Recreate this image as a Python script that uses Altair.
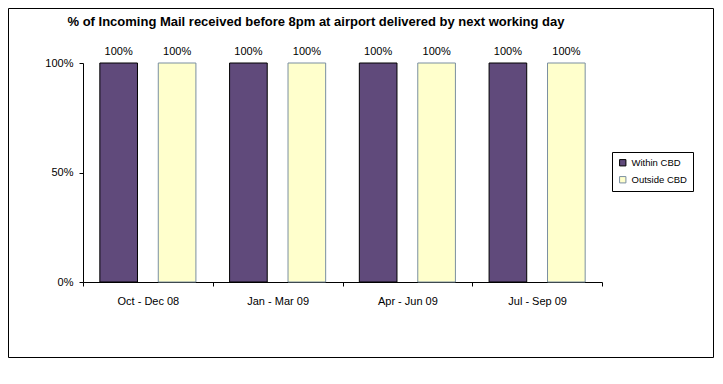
import altair as alt
import pandas as pd

periods = ["Oct - Dec 08", "Jan - Mar 09", "Apr - Jun 09", "Jul - Sep 09"]
series = ["Within CBD", "Outside CBD"]
within_cbd = [1.0, 1.0, 1.0, 1.0]
outside_cbd = [1.0, 1.0, 1.0, 1.0]
fill_colors = ["#604A7B", "#FFFFCC"]
stroke_colors = ["#000000", "#7A8FA0"]
title_text = "% of Incoming Mail received before 8pm at airport delivered by next working day"

rows = []
for p, w, o in zip(periods, within_cbd, outside_cbd):
    rows.append({"period": p, "series": series[0], "value": w})
    rows.append({"period": p, "series": series[1], "value": o})
df = pd.DataFrame(rows)

W, H = 519, 219
FONT = "Liberation Sans"

x = alt.X("period:N", sort=periods, title=None,
          scale=alt.Scale(paddingInner=0, paddingOuter=0),
          axis=alt.Axis(labelAngle=0, tickBand="extent", tickSize=4, labelPadding=9,
                        labelFontSize=11, labelFont=FONT, labelColor="black",
                        domainColor="black", tickColor="black", grid=False))
xo = alt.XOffset("series:N", sort=series,
                 scale=alt.Scale(paddingInner=0.356, paddingOuter=0.288))
y = alt.Y("value:Q", title=None,
          scale=alt.Scale(domain=[0, 1], nice=False),
          axis=alt.Axis(values=[0, 0.5, 1], format=".0%", tickSize=4, labelPadding=6,
                        labelFontSize=11, labelFont=FONT, labelColor="black",
                        domainColor="black", tickColor="black", grid=False))

color = alt.Color("series:N", sort=series, title=None,
                  scale=alt.Scale(domain=series, range=fill_colors),
                  legend=alt.Legend(orient="none", legendX=529, legendY=89,
                                    symbolType="square", symbolSize=40,
                                    labelFontSize=9.5, labelFont=FONT, labelColor="black",
                                    strokeColor="black", padding=6, rowPadding=6,
                                    symbolStrokeWidth=1, fillColor="white"))
stroke = alt.Stroke("series:N", sort=series, title=None,
                    scale=alt.Scale(domain=series, range=stroke_colors))

bars = alt.Chart(df).mark_bar(strokeWidth=1).encode(
    x=x, xOffset=xo, y=y, color=color, stroke=stroke
)
labels = alt.Chart(df).mark_text(dy=-11, fontSize=11, font=FONT, color="black").encode(
    x=alt.X("period:N", sort=periods), xOffset=alt.XOffset("series:N", sort=series),
    y="value:Q", text=alt.Text("value:Q", format=".0%")
)
border = alt.Chart(alt.Data(values=[{"a": 1}])).mark_rect(
    fill="transparent", stroke="black", strokeWidth=1
).encode(x=alt.value(-74.5), x2=alt.value(630.5), y=alt.value(-54.5), y2=alt.value(294.5))
title = alt.Chart(alt.Data(values=[{"t": title_text}])).mark_text(
    fontSize=13, font=FONT, fontWeight="bold", color="black", align="center", baseline="middle"
).encode(x=alt.value(233), y=alt.value(-41), text="t:N")

chart = alt.layer(bars, labels, border, title).properties(
    width=W, height=H,
    autosize=alt.AutoSizeParams(type="none"),
    padding={"left": 75, "top": 55, "right": 113, "bottom": 76},
).configure_view(stroke=None)

chart.save("out.html", embed_options={"renderer": "svg", "actions": False})
